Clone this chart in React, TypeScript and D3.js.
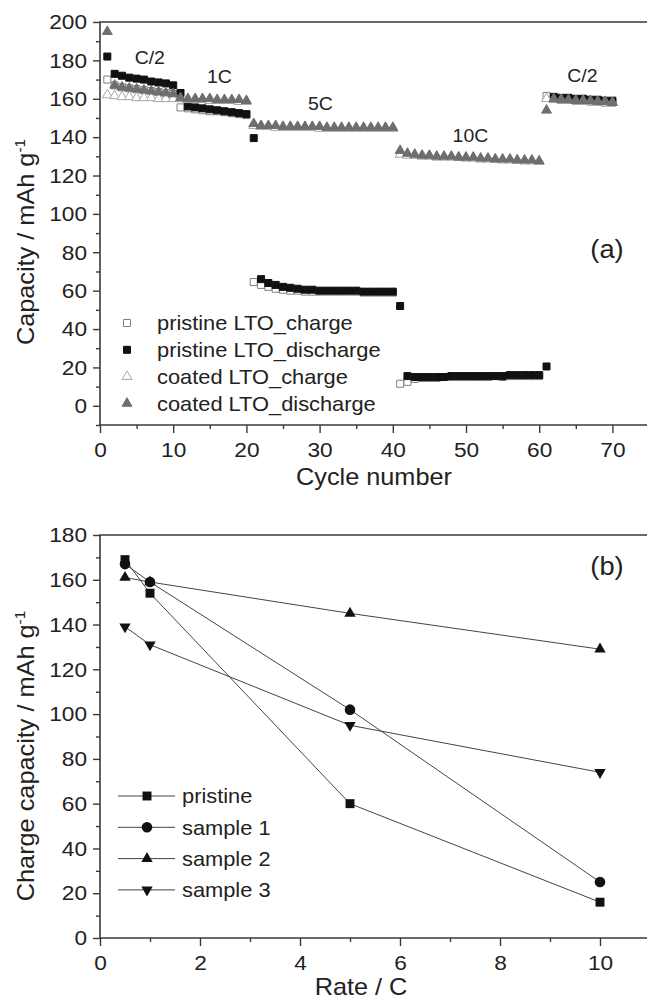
import { useEffect, useRef } from "react";
import * as d3 from "d3";

// ---- panel (a): capacity vs cycle number ----
const cycles = d3.range(1, 71);

const pristineCharge = [
  170, 167, 166, 165.5, 165, 164.5, 164, 163.5, 163, 162.5,
  155.5, 155, 154.5, 154, 153.5, 153.5, 153, 152.5, 152, 151.5,
  64.5, 63, 62, 61, 60.5, 60, 60, 59.5, 59.5, 59.5,
  59.5, 59.5, 59.5, 59.5, 59.5, 59, 59, 59, 59, 59,
  11.5, 12.5, 14, 14.5, 14.5, 14.5, 15, 15, 15, 15,
  15, 15, 15, 15.5, 15, 15.5, 15.5, 15.5, 15.5, 15.5,
  161.5, 160, 159.5, 159.5, 159, 159, 158.5, 158.5, 158, 158,
];
const pristineDischarge = [
  182, 173, 172, 171, 170.5, 170, 169, 168.5, 168, 167,
  163, 156, 155.5, 155, 154.5, 154, 153.5, 153, 152.5, 152,
  139.5, 66, 64, 63, 62, 61.5, 61, 60.5, 60.5, 60,
  60, 60, 60, 60, 60, 59.5, 59.5, 59.5, 59.5, 59.5,
  52, 15.5, 15, 15, 15, 15, 15, 15.5, 15.5, 15.5,
  15.5, 15.5, 15.5, 15.5, 15.5, 16, 16, 16, 16, 16,
  20.5, 161, 160.5, 160.5, 160, 160, 159.5, 159.5, 159, 159,
];
const coatedCharge = [
  162, 161.5, 161, 161, 160.5, 160.5, 160.5, 160, 160, 160,
  160, 159.5, 159.5, 159.5, 159, 159, 159, 159, 158.5, 158.5,
  146, 145.5, 145.5, 145, 145, 145, 145, 145, 145, 144.5,
  144.5, 144.5, 144.5, 144.5, 144.5, 144.5, 144.5, 144.5, 144.5, 144.5,
  131, 130.5, 130.5, 130, 130, 129.5, 129.5, 129.5, 129.5, 129,
  129, 128.5, 128.5, 128.5, 128, 128, 128, 127.5, 127.5, 127.5,
  160, 159.5, 159.5, 159, 159, 159, 158.5, 158.5, 158.5, 158,
];
const coatedDischarge = [
  195, 167, 166, 165.5, 165, 164.5, 164, 163.5, 163, 162.5,
  160.5, 160, 160, 160, 160, 159.5, 159.5, 159.5, 159.5, 159,
  147, 146, 146, 146, 145.5, 145.5, 145.5, 145.5, 145.5, 145.5,
  145, 145, 145, 145, 145, 145, 145, 145, 145, 145,
  133, 131.5, 131, 130.5, 130.5, 130, 130, 130, 129.5, 129.5,
  129.5, 129, 129, 128.5, 128.5, 128.5, 128, 128, 128, 127.5,
  154, 160, 159.5, 159.5, 159, 159, 159, 158.5, 158.5, 158,
];
const cycleSeriesNames = [
  "pristine LTO_charge",
  "pristine LTO_discharge",
  "coated LTO_charge",
  "coated LTO_discharge",
];
const rateSteps = ["C/2", "1C", "5C", "10C", "C/2"];
const rateStepCycle = [6.8, 16.3, 30.1, 50.6, 65.9];
const rateStepValue = [181.4, 171.5, 157.6, 140.6, 171.9];

// ---- panel (b): charge capacity vs rate ----
const rates = [0.5, 1, 5, 10];
const ratePristine = [169, 154, 60, 16];
const rateSample1 = [167, 159, 102, 25];
const rateSample2 = [161, 159, 145, 129];
const rateSample3 = [139, 131, 95, 74];
const rateSeriesNames = ["pristine", "sample 1", "sample 2", "sample 3"];

const FONT = "'Liberation Sans', Arial, sans-serif";
const TXT = "#222";
const AX = "#3a3a3a";

type Sel = d3.Selection<SVGGElement, unknown, null, undefined>;

// the scan is a bit wider than plain Arial, so text gets a small x-stretch
function label(g: Sel, x: number, y: number, text: string, size: number, sx: number, anchor = "start") {
  return g.append("text")
    .attr("transform", `translate(${x},${y}) scale(${sx},1)`)
    .attr("text-anchor", anchor).attr("dy", "0.35em")
    .attr("fill", TXT).attr("font-size", size).attr("font-family", FONT)
    .text(text);
}

function axes(
  g: Sel,
  x: d3.ScaleLinear<number, number>,
  y: d3.ScaleLinear<number, number>,
  xMajor: number[], xMinor: number[], yMajor: number[], yMinor: number[],
) {
  const [x0, x1] = x.range();
  const [y0, y1] = y.range();
  const style = (s: Sel) => {
    s.select(".domain").remove();
    s.selectAll(".tick line").attr("stroke", AX).attr("stroke-width", 1.4);
    s.selectAll(".tick text").attr("fill", TXT).attr("font-size", 21).attr("font-family", FONT)
      .attr("transform", "scale(1.08,1)");
  };
  g.append("g").attr("transform", `translate(0,${y0})`)
    .call(d3.axisBottom(x).tickValues(xMinor).tickSize(4).tickFormat(() => ""))
    .call(style);
  g.append("g").attr("transform", `translate(0,${y0})`)
    .call(d3.axisBottom(x).tickValues(xMajor).tickSize(8).tickPadding(9).tickFormat(d3.format("d")))
    .call(style);
  g.append("g").attr("transform", `translate(${x0},0)`)
    .call(d3.axisLeft(y).tickValues(yMinor).tickSize(4).tickFormat(() => ""))
    .call(style);
  g.append("g").attr("transform", `translate(${x0},0)`)
    .call(d3.axisLeft(y).tickValues(yMajor).tickSize(7).tickPadding(5).tickFormat(d3.format("d")))
    .call(style);
  // frame: left, bottom, top
  g.append("path")
    .attr("d", `M${x1},${y1}H${x0}V${y0}H${x1}`)
    .attr("fill", "none").attr("stroke", AX).attr("stroke-width", 1.6);
}

function yTitle(g: Sel, x: number, y: number, text: string) {
  const t = g.append("text")
    .attr("transform", `translate(${x},${y}) rotate(-90) scale(1.1,1)`)
    .attr("text-anchor", "middle").attr("fill", TXT)
    .attr("font-size", 23).attr("font-family", FONT);
  t.append("tspan").text(text);
  t.append("tspan").attr("dy", -9).attr("font-size", 14).text("-1");
}

export default function App() {
  const svgRef = useRef<SVGSVGElement>(null);

  useEffect(() => {
    document.body.style.margin = "0";
    if (!svgRef.current) return;
    const svg = d3.select(svgRef.current);
    svg.selectAll("*").remove();
    const root = svg.append("g") as Sel;

    // ===== panel (a) =====
    const xa = d3.scaleLinear().domain([0, 75]).range([100, 649]);
    const ya = d3.scaleLinear().domain([-10, 200]).range([425, 22]);
    const ga = root.append("g") as Sel;
    axes(ga, xa, ya,
      d3.range(0, 71, 10), d3.range(5, 71, 10),
      d3.range(0, 201, 20), d3.range(-10, 200, 20));

    const sq = d3.symbol().type(d3.symbolSquare).size(49)() as string;
    const tri = d3.symbol().type(d3.symbolTriangle).size(42)() as string;

    const cycleSeries = [
      { values: pristineCharge, path: sq, fill: "#fff", stroke: "#808080" },
      { values: pristineDischarge, path: sq, fill: "#111", stroke: "#111" },
      { values: coatedCharge, path: tri, fill: "#fff", stroke: "#a8a8a8" },
      { values: coatedDischarge, path: tri, fill: "#6e6e6e", stroke: "#6e6e6e" },
    ];
    cycleSeries.forEach((s) => {
      ga.append("g").selectAll("path")
        .data(cycles).enter().append("path")
        .attr("d", s.path)
        .attr("transform", (c, i) => `translate(${xa(c)},${ya(s.values[i])})`)
        .attr("fill", s.fill).attr("stroke", s.stroke).attr("stroke-width", 1);
    });

    rateSteps.forEach((t, i) => {
      label(ga, xa(rateStepCycle[i]), ya(rateStepValue[i]), t, 18, 1.08, "middle");
    });
    label(ga, 607, 249, "(a)", 26, 1.05, "middle");

    // legend (a)
    cycleSeriesNames.forEach((name, i) => {
      const s = cycleSeries[i];
      const ly = 323 + i * 26.8;
      ga.append("path").attr("d", s.path)
        .attr("transform", `translate(127,${ly})`)
        .attr("fill", s.fill).attr("stroke", s.stroke);
      label(ga, 157, ly, name, 21, 1.04);
    });

    label(ga, 374, 477, "Cycle number", 23, 1.1, "middle");
    yTitle(ga, 34, 242, "Capacity / mAh g");

    // ===== panel (b) =====
    const xb = d3.scaleLinear().domain([0, 11]).range([100, 650]);
    const yb = d3.scaleLinear().domain([0, 180]).range([938, 535]);
    const gb = root.append("g") as Sel;
    axes(gb, xb, yb,
      d3.range(0, 11, 2), d3.range(1, 11, 2),
      d3.range(0, 181, 20), d3.range(10, 180, 20));

    const bSq = d3.symbol().type(d3.symbolSquare).size(80)() as string;
    const bCi = d3.symbol().type(d3.symbolCircle).size(88)() as string;
    const bTr = d3.symbol().type(d3.symbolTriangle).size(56)() as string;
    const rateSeries = [
      { values: ratePristine, path: bSq, rot: 0 },
      { values: rateSample1, path: bCi, rot: 0 },
      { values: rateSample2, path: bTr, rot: 0 },
      { values: rateSample3, path: bTr, rot: 180 },
    ];
    const line = d3.line<number>().x((_, i) => xb(rates[i])).y((v) => yb(v));
    rateSeries.forEach((s) => {
      gb.append("path").attr("d", line(s.values))
        .attr("fill", "none").attr("stroke", "#444").attr("stroke-width", 1);
    });
    rateSeries.forEach((s) => {
      gb.append("g").selectAll("path")
        .data(s.values).enter().append("path")
        .attr("d", s.path)
        .attr("transform", (v, i) => `translate(${xb(rates[i])},${yb(v)}) rotate(${s.rot})`)
        .attr("fill", "#111");
    });

    label(gb, 607, 566, "(b)", 26, 1.05, "middle");

    rateSeriesNames.forEach((name, i) => {
      const s = rateSeries[i];
      const ly = 796 + i * 31.3;
      gb.append("line").attr("x1", 118).attr("x2", 175).attr("y1", ly).attr("y2", ly)
        .attr("stroke", "#444").attr("stroke-width", 1);
      gb.append("path").attr("d", s.path)
        .attr("transform", `translate(147,${ly}) rotate(${s.rot})`).attr("fill", "#111");
      label(gb, 182, ly, name, 21, 1.04);
    });

    label(gb, 361, 987, "Rate / C", 23, 1.1, "middle");
    yTitle(gb, 34, 756, "Charge capacity / mAh g");
  }, []);

  return (
    <svg ref={svgRef} width={647} height={999} style={{ display: "block", background: "#fff" }} />
  );
}
